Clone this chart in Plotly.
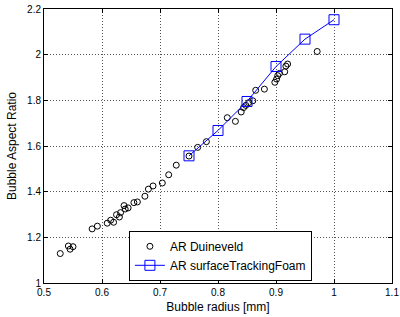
import plotly.graph_objects as go

# Experimental data: AR Duineveld (bubble radius [mm], aspect ratio)
duineveld_r = [0.528, 0.542, 0.545, 0.550, 0.583, 0.592, 0.609, 0.615, 0.620,
               0.625, 0.630, 0.632, 0.638, 0.640, 0.645, 0.655, 0.661, 0.674,
               0.680, 0.688, 0.704, 0.715, 0.728, 0.750, 0.765, 0.780, 0.816,
               0.830, 0.840, 0.844, 0.848, 0.853, 0.860, 0.865, 0.880, 0.898,
               0.901, 0.903, 0.906, 0.915, 0.917, 0.920, 0.971]
duineveld_ar = [1.129, 1.162, 1.148, 1.159, 1.237, 1.249, 1.262, 1.275, 1.266,
                1.299, 1.289, 1.308, 1.339, 1.324, 1.329, 1.352, 1.355, 1.380,
                1.411, 1.425, 1.438, 1.474, 1.516, 1.556, 1.594, 1.619, 1.724,
                1.708, 1.749, 1.768, 1.778, 1.790, 1.798, 1.844, 1.849, 1.879,
                1.893, 1.908, 1.918, 1.925, 1.950, 1.959, 2.014]

# Simulation: AR surfaceTrackingFoam
stf_r = [0.75, 0.80, 0.85, 0.90, 0.95, 1.00]
stf_ar = [1.557, 1.668, 1.795, 1.948, 2.068, 2.153]

x_ticks = [0.5, 0.6, 0.7, 0.8, 0.9, 1.0, 1.1]
x_tick_labels = ["0.5", "0.6", "0.7", "0.8", "0.9", "1", "1.1"]
y_ticks = [1.0, 1.2, 1.4, 1.6, 1.8, 2.0, 2.2]
y_tick_labels = ["1", "1.2", "1.4", "1.6", "1.8", "2", "2.2"]

FONT = "Liberation Sans, Arial, Helvetica, sans-serif"

fig = go.Figure()
fig.add_trace(go.Scatter(
    x=duineveld_r, y=duineveld_ar, mode="markers", name="AR Duineveld",
    marker=dict(symbol="circle-open", size=6, color="black", line=dict(width=1, color="black")),
))
fig.add_trace(go.Scatter(
    x=stf_r, y=stf_ar, mode="lines+markers", name="AR surfaceTrackingFoam",
    line=dict(color="#0000ff", width=1),
    marker=dict(symbol="square-open", size=10, color="#0000ff", line=dict(width=1, color="#0000ff")),
))

axis_common = dict(
    showline=True, linecolor="black", linewidth=1, mirror="ticks",
    ticks="inside", ticklen=4, tickcolor="black", tickwidth=1,
    showgrid=True, gridcolor="#555555", griddash="1px,2px", gridwidth=1,
    zeroline=False, tickfont=dict(family=FONT, size=10, color="black"),
    automargin=False,
)

fig.update_xaxes(range=[0.5, 1.1], tickvals=x_ticks, ticktext=x_tick_labels,
                 ticklabeloverflow="allow",
                 title=dict(text="Bubble radius [mm]", font=dict(family=FONT, size=12, color="black"), standoff=5),
                 **axis_common)
fig.update_yaxes(range=[1.0, 2.2], tickvals=y_ticks, ticktext=y_tick_labels,
                 title=dict(text="Bubble Aspect Ratio", font=dict(family=FONT, size=12, color="black"), standoff=7),
                 **axis_common)

fig.update_layout(
    width=400, height=317,
    margin=dict(l=44, r=8, t=9, b=34),
    paper_bgcolor="white", plot_bgcolor="white",
    font=dict(family=FONT, color="black"),
    showlegend=True,
    legend=dict(x=0.244, y=0.008, xanchor="left", yanchor="bottom",
                bgcolor="white", bordercolor="black", borderwidth=1,
                font=dict(family=FONT, size=12, color="black"),
                itemwidth=30, tracegroupgap=0),
)

fig.write_html("out.html", config={"displayModeBar": False},
               post_script="document.body.style.margin='0';")
